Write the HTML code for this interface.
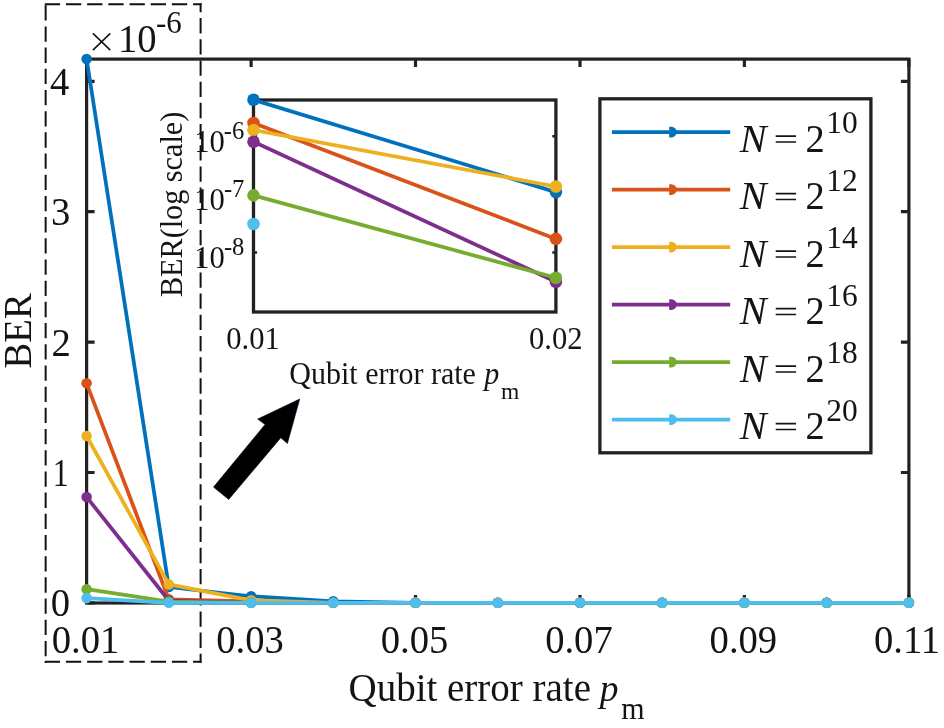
<!DOCTYPE html><html><head><meta charset="utf-8"><style>
html,body{margin:0;padding:0;background:#fff;}body{width:944px;height:728px;overflow:hidden;position:relative;}
svg{position:absolute;left:0;top:0;will-change:transform;}
text{font-family:"Liberation Serif", serif;fill:#141414;}
</style></head><body>
<svg width="944" height="728" viewBox="0 0 944 728">
<g stroke="#111" stroke-width="2" fill="none" stroke-dasharray="15.30 5.89">
<path d="M44.75 4.15 H201.60"/>
<path d="M44.75 661.80 H201.60"/>
<path d="M45.65 3.15 V662.80" stroke-dashoffset="19.13"/>
<path d="M200.60 3.15 V662.80" stroke-dashoffset="6.24"/>
</g>
<g stroke="#222222" stroke-width="3.2" fill="none">
<rect x="86.6" y="59.1" width="822.3" height="543.9"/>
<path d="M86.6 603.0 v-8 M86.6 59.1 v8"/>
<path d="M251.1 603.0 v-8 M251.1 59.1 v8"/>
<path d="M415.5 603.0 v-8 M415.5 59.1 v8"/>
<path d="M580.0 603.0 v-8 M580.0 59.1 v8"/>
<path d="M744.4 603.0 v-8 M744.4 59.1 v8"/>
<path d="M908.9 603.0 v-8 M908.9 59.1 v8"/>
<path d="M86.6 602.9 h8 M908.9 602.9 h-8"/>
<path d="M86.6 472.5 h8 M908.9 472.5 h-8"/>
<path d="M86.6 342.1 h8 M908.9 342.1 h-8"/>
<path d="M86.6 211.7 h8 M908.9 211.7 h-8"/>
<path d="M86.6 81.3 h8 M908.9 81.3 h-8"/>
</g>
<polyline points="86.6,59.0 168.8,587.0 251.1,596.3 333.3,601.3 415.5,602.8 497.8,602.8 580.0,602.8 662.2,602.8 744.4,602.8 826.7,602.8 908.9,602.8" fill="none" stroke="#0072BD" stroke-width="3.75" stroke-linejoin="round"/>
<g fill="#0072BD"><circle cx="86.6" cy="59.0" r="5.3"/><circle cx="168.8" cy="587.0" r="5.3"/><circle cx="251.1" cy="596.3" r="5.3"/><circle cx="333.3" cy="601.3" r="5.3"/><circle cx="415.5" cy="602.8" r="5.3"/><circle cx="497.8" cy="602.8" r="5.3"/><circle cx="580.0" cy="602.8" r="5.3"/><circle cx="662.2" cy="602.8" r="5.3"/><circle cx="744.4" cy="602.8" r="5.3"/><circle cx="826.7" cy="602.8" r="5.3"/><circle cx="908.9" cy="602.8" r="5.3"/></g>
<polyline points="86.6,383.3 168.8,599.3 251.1,601.3 333.3,602.8 415.5,602.8 497.8,602.8 580.0,602.8 662.2,602.8 744.4,602.8 826.7,602.8 908.9,602.8" fill="none" stroke="#D95319" stroke-width="3.75" stroke-linejoin="round"/>
<g fill="#D95319"><circle cx="86.6" cy="383.3" r="5.3"/><circle cx="168.8" cy="599.3" r="5.3"/><circle cx="251.1" cy="601.3" r="5.3"/><circle cx="333.3" cy="602.8" r="5.3"/><circle cx="415.5" cy="602.8" r="5.3"/><circle cx="497.8" cy="602.8" r="5.3"/><circle cx="580.0" cy="602.8" r="5.3"/><circle cx="662.2" cy="602.8" r="5.3"/><circle cx="744.4" cy="602.8" r="5.3"/><circle cx="826.7" cy="602.8" r="5.3"/><circle cx="908.9" cy="602.8" r="5.3"/></g>
<polyline points="86.6,436.0 168.8,584.4 251.1,600.3 333.3,602.8 415.5,602.8 497.8,602.8 580.0,602.8 662.2,602.8 744.4,602.8 826.7,602.8 908.9,602.8" fill="none" stroke="#EDB120" stroke-width="3.75" stroke-linejoin="round"/>
<g fill="#EDB120"><circle cx="86.6" cy="436.0" r="5.3"/><circle cx="168.8" cy="584.4" r="5.3"/><circle cx="251.1" cy="600.3" r="5.3"/><circle cx="333.3" cy="602.8" r="5.3"/><circle cx="415.5" cy="602.8" r="5.3"/><circle cx="497.8" cy="602.8" r="5.3"/><circle cx="580.0" cy="602.8" r="5.3"/><circle cx="662.2" cy="602.8" r="5.3"/><circle cx="744.4" cy="602.8" r="5.3"/><circle cx="826.7" cy="602.8" r="5.3"/><circle cx="908.9" cy="602.8" r="5.3"/></g>
<polyline points="86.6,497.0 168.8,600.5 251.1,602.8 333.3,602.8 415.5,602.8 497.8,602.8 580.0,602.8 662.2,602.8 744.4,602.8 826.7,602.8 908.9,602.8" fill="none" stroke="#7E2F8E" stroke-width="3.75" stroke-linejoin="round"/>
<g fill="#7E2F8E"><circle cx="86.6" cy="497.0" r="5.3"/><circle cx="168.8" cy="600.5" r="5.3"/><circle cx="251.1" cy="602.8" r="5.3"/><circle cx="333.3" cy="602.8" r="5.3"/><circle cx="415.5" cy="602.8" r="5.3"/><circle cx="497.8" cy="602.8" r="5.3"/><circle cx="580.0" cy="602.8" r="5.3"/><circle cx="662.2" cy="602.8" r="5.3"/><circle cx="744.4" cy="602.8" r="5.3"/><circle cx="826.7" cy="602.8" r="5.3"/><circle cx="908.9" cy="602.8" r="5.3"/></g>
<polyline points="86.6,589.2 168.8,601.6 251.1,602.8 333.3,602.8 415.5,602.8 497.8,602.8 580.0,602.8 662.2,602.8 744.4,602.8 826.7,602.8 908.9,602.8" fill="none" stroke="#77AC30" stroke-width="3.75" stroke-linejoin="round"/>
<g fill="#77AC30"><circle cx="86.6" cy="589.2" r="5.3"/><circle cx="168.8" cy="601.6" r="5.3"/><circle cx="251.1" cy="602.8" r="5.3"/><circle cx="333.3" cy="602.8" r="5.3"/><circle cx="415.5" cy="602.8" r="5.3"/><circle cx="497.8" cy="602.8" r="5.3"/><circle cx="580.0" cy="602.8" r="5.3"/><circle cx="662.2" cy="602.8" r="5.3"/><circle cx="744.4" cy="602.8" r="5.3"/><circle cx="826.7" cy="602.8" r="5.3"/><circle cx="908.9" cy="602.8" r="5.3"/></g>
<polyline points="86.6,598.1 168.8,602.8 251.1,602.8 333.3,602.8 415.5,602.8 497.8,602.8 580.0,602.8 662.2,602.8 744.4,602.8 826.7,602.8 908.9,602.8" fill="none" stroke="#4DBEEE" stroke-width="3.75" stroke-linejoin="round"/>
<g fill="#4DBEEE"><circle cx="86.6" cy="598.1" r="5.3"/><circle cx="168.8" cy="602.8" r="5.3"/><circle cx="251.1" cy="602.8" r="5.3"/><circle cx="333.3" cy="602.8" r="5.3"/><circle cx="415.5" cy="602.8" r="5.3"/><circle cx="497.8" cy="602.8" r="5.3"/><circle cx="580.0" cy="602.8" r="5.3"/><circle cx="662.2" cy="602.8" r="5.3"/><circle cx="744.4" cy="602.8" r="5.3"/><circle cx="826.7" cy="602.8" r="5.3"/><circle cx="908.9" cy="602.8" r="5.3"/></g>
<text transform="translate(50.87,616.30) scale(1.000,1.020)" font-size="38.60">0</text>
<text transform="translate(52.67,485.90) scale(0.820,1.020)" font-size="38.60">1</text>
<text transform="translate(51.52,355.50) scale(1.000,1.020)" font-size="38.60">2</text>
<text transform="translate(50.91,225.10) scale(1.000,1.020)" font-size="38.60">3</text>
<text transform="translate(50.02,94.70) scale(1.000,1.020)" font-size="38.60">4</text>
<text transform="translate(51.78,653.20) scale(1.000,1.020)" font-size="38.60">0.01</text>
<text transform="translate(216.24,653.20) scale(1.000,1.020)" font-size="38.60">0.03</text>
<text transform="translate(380.70,653.20) scale(1.000,1.020)" font-size="38.60">0.05</text>
<text transform="translate(545.16,653.20) scale(1.000,1.020)" font-size="38.60">0.07</text>
<text transform="translate(709.62,653.20) scale(1.000,1.020)" font-size="38.60">0.09</text>
<text transform="translate(874.08,653.20) scale(1.000,1.020)" font-size="38.60">0.11</text>
<path d="M92.9 33.4 L110.3 50.1 M110.3 33.4 L92.9 50.1" stroke="#141414" stroke-width="1.55" fill="none"/>
<text transform="translate(117.90,51.50) scale(1.000,1.020)" font-size="38.60">10</text>
<text transform="translate(156.05,33.20) scale(1.000,1.020)" font-size="31.00">-6</text>
<text transform="translate(31.00,368.42) rotate(-90) scale(1,1.020)" font-size="38.60">BER</text>
<text transform="translate(348.50,700.60) scale(1.000,1.020)" font-size="39.00">Qubit error rate</text>
<text transform="translate(599.81,700.90) scale(1.000,1.020)" font-size="37.50" font-style="italic">p</text>
<text transform="translate(621.37,719.30) scale(1.000,1.020)" font-size="30.00">m</text>
<path d="M299.7 399 L287.4 443.5 L280.8 437.7 L228.7 499.4 L213.5 487.1 L265.1 424.5 L257.7 419.1 Z" fill="#000" stroke="#06102a" stroke-width="0.7" stroke-linejoin="miter"/>
<rect x="253.5" y="100.0" width="302.4" height="212.0" fill="#fff" stroke="#222222" stroke-width="3.3"/>
<g stroke="#222222" stroke-width="2.6">
<path d="M253.5 136.2 h3.6 M555.9 136.2 h-3.6"/>
<path d="M253.5 194.3 h3.6 M555.9 194.3 h-3.6"/>
<path d="M253.5 252.5 h3.6 M555.9 252.5 h-3.6"/>
</g>
<line x1="253.5" y1="99.8" x2="555.9" y2="192.1" stroke="#0072BD" stroke-width="3.75"/>
<circle cx="555.9" cy="192.1" r="6.3" fill="#0072BD"/>
<circle cx="253.5" cy="99.8" r="6.3" fill="#0072BD"/>
<line x1="253.5" y1="123.0" x2="555.9" y2="238.9" stroke="#D95319" stroke-width="3.75"/>
<circle cx="555.9" cy="238.9" r="6.3" fill="#D95319"/>
<circle cx="253.5" cy="123.0" r="6.3" fill="#D95319"/>
<line x1="253.5" y1="130.1" x2="555.9" y2="186.5" stroke="#EDB120" stroke-width="3.75"/>
<circle cx="555.9" cy="186.5" r="6.3" fill="#EDB120"/>
<circle cx="253.5" cy="130.1" r="6.3" fill="#EDB120"/>
<line x1="253.5" y1="141.7" x2="555.9" y2="281.8" stroke="#7E2F8E" stroke-width="3.75"/>
<circle cx="555.9" cy="281.8" r="6.3" fill="#7E2F8E"/>
<circle cx="253.5" cy="141.7" r="6.3" fill="#7E2F8E"/>
<line x1="253.5" y1="195.4" x2="555.9" y2="277.8" stroke="#77AC30" stroke-width="3.75"/>
<circle cx="555.9" cy="277.8" r="6.3" fill="#77AC30"/>
<circle cx="253.5" cy="195.4" r="6.3" fill="#77AC30"/>
<circle cx="253.5" cy="224.0" r="6.3" fill="#4DBEEE"/>
<text transform="translate(194.21,152.10) scale(1.000,1.020)" font-size="30.60">10</text>
<text transform="translate(223.69,138.80) scale(1.000,1.020)" font-size="24.60">-6</text>
<text transform="translate(194.21,210.20) scale(1.000,1.020)" font-size="30.60">10</text>
<text transform="translate(223.89,196.90) scale(1.000,1.020)" font-size="24.60">-7</text>
<text transform="translate(194.21,268.40) scale(1.000,1.020)" font-size="30.60">10</text>
<text transform="translate(223.89,255.10) scale(1.000,1.020)" font-size="24.60">-8</text>
<text transform="translate(226.24,349.00) scale(1.000,1.020)" font-size="30.60">0.01</text>
<text transform="translate(528.94,349.00) scale(1.000,1.020)" font-size="30.60">0.02</text>
<text transform="translate(182.30,297.08) rotate(-90) scale(1,1.020)" font-size="30.20">BER(log scale)</text>
<text transform="translate(289.37,384.10) scale(1.000,1.020)" font-size="30.00">Qubit error rate</text>
<text transform="translate(484.37,384.30) scale(1.000,1.020)" font-size="30.00" font-style="italic">p</text>
<text transform="translate(501.01,399.20) scale(1.000,1.020)" font-size="23.50">m</text>
<rect x="599.9" y="98.8" width="271" height="354" fill="#fff" stroke="#222222" stroke-width="3.3"/>
<line x1="611.9" y1="132.1" x2="730.2" y2="132.1" stroke="#0072BD" stroke-width="3.6"/>
<path d="M669.2 126.8 h2.2 a5.3 5.3 0 0 1 0 10.6 h-2.2 z" fill="#0072BD"/>
<text transform="translate(739.68,151.90) scale(1.045,1.020)" font-size="38.50" font-style="italic">N</text>
<path d="M775.7 136.10 H796.1 M775.7 142.00 H796.1" stroke="#141414" stroke-width="1.55"/>
<text transform="translate(805.51,151.90) scale(1.000,1.020)" font-size="38.50">2</text>
<text transform="translate(826.3,133.40) scale(1,1.020)" font-size="31.5">10</text>
<line x1="611.9" y1="189.6" x2="730.2" y2="189.6" stroke="#D95319" stroke-width="3.6"/>
<path d="M669.2 184.3 h2.2 a5.3 5.3 0 0 1 0 10.6 h-2.2 z" fill="#D95319"/>
<text transform="translate(739.68,209.40) scale(1.045,1.020)" font-size="38.50" font-style="italic">N</text>
<path d="M775.7 193.60 H796.1 M775.7 199.50 H796.1" stroke="#141414" stroke-width="1.55"/>
<text transform="translate(805.51,209.40) scale(1.000,1.020)" font-size="38.50">2</text>
<text transform="translate(826.3,190.90) scale(1,1.020)" font-size="31.5">12</text>
<line x1="611.9" y1="247.1" x2="730.2" y2="247.1" stroke="#EDB120" stroke-width="3.6"/>
<path d="M669.2 241.8 h2.2 a5.3 5.3 0 0 1 0 10.6 h-2.2 z" fill="#EDB120"/>
<text transform="translate(739.68,266.90) scale(1.045,1.020)" font-size="38.50" font-style="italic">N</text>
<path d="M775.7 251.10 H796.1 M775.7 257.00 H796.1" stroke="#141414" stroke-width="1.55"/>
<text transform="translate(805.51,266.90) scale(1.000,1.020)" font-size="38.50">2</text>
<text transform="translate(826.3,248.40) scale(1,1.020)" font-size="31.5">14</text>
<line x1="611.9" y1="304.6" x2="730.2" y2="304.6" stroke="#7E2F8E" stroke-width="3.6"/>
<path d="M669.2 299.3 h2.2 a5.3 5.3 0 0 1 0 10.6 h-2.2 z" fill="#7E2F8E"/>
<text transform="translate(739.68,324.40) scale(1.045,1.020)" font-size="38.50" font-style="italic">N</text>
<path d="M775.7 308.60 H796.1 M775.7 314.50 H796.1" stroke="#141414" stroke-width="1.55"/>
<text transform="translate(805.51,324.40) scale(1.000,1.020)" font-size="38.50">2</text>
<text transform="translate(826.3,305.90) scale(1,1.020)" font-size="31.5">16</text>
<line x1="611.9" y1="362.1" x2="730.2" y2="362.1" stroke="#77AC30" stroke-width="3.6"/>
<path d="M669.2 356.8 h2.2 a5.3 5.3 0 0 1 0 10.6 h-2.2 z" fill="#77AC30"/>
<text transform="translate(739.68,381.90) scale(1.045,1.020)" font-size="38.50" font-style="italic">N</text>
<path d="M775.7 366.10 H796.1 M775.7 372.00 H796.1" stroke="#141414" stroke-width="1.55"/>
<text transform="translate(805.51,381.90) scale(1.000,1.020)" font-size="38.50">2</text>
<text transform="translate(826.3,363.40) scale(1,1.020)" font-size="31.5">18</text>
<line x1="611.9" y1="419.6" x2="730.2" y2="419.6" stroke="#4DBEEE" stroke-width="3.6"/>
<path d="M669.2 414.3 h2.2 a5.3 5.3 0 0 1 0 10.6 h-2.2 z" fill="#4DBEEE"/>
<text transform="translate(739.68,439.40) scale(1.045,1.020)" font-size="38.50" font-style="italic">N</text>
<path d="M775.7 423.60 H796.1 M775.7 429.50 H796.1" stroke="#141414" stroke-width="1.55"/>
<text transform="translate(805.51,439.40) scale(1.000,1.020)" font-size="38.50">2</text>
<text transform="translate(826.3,420.90) scale(1,1.020)" font-size="31.5">20</text>
</svg></body></html>
